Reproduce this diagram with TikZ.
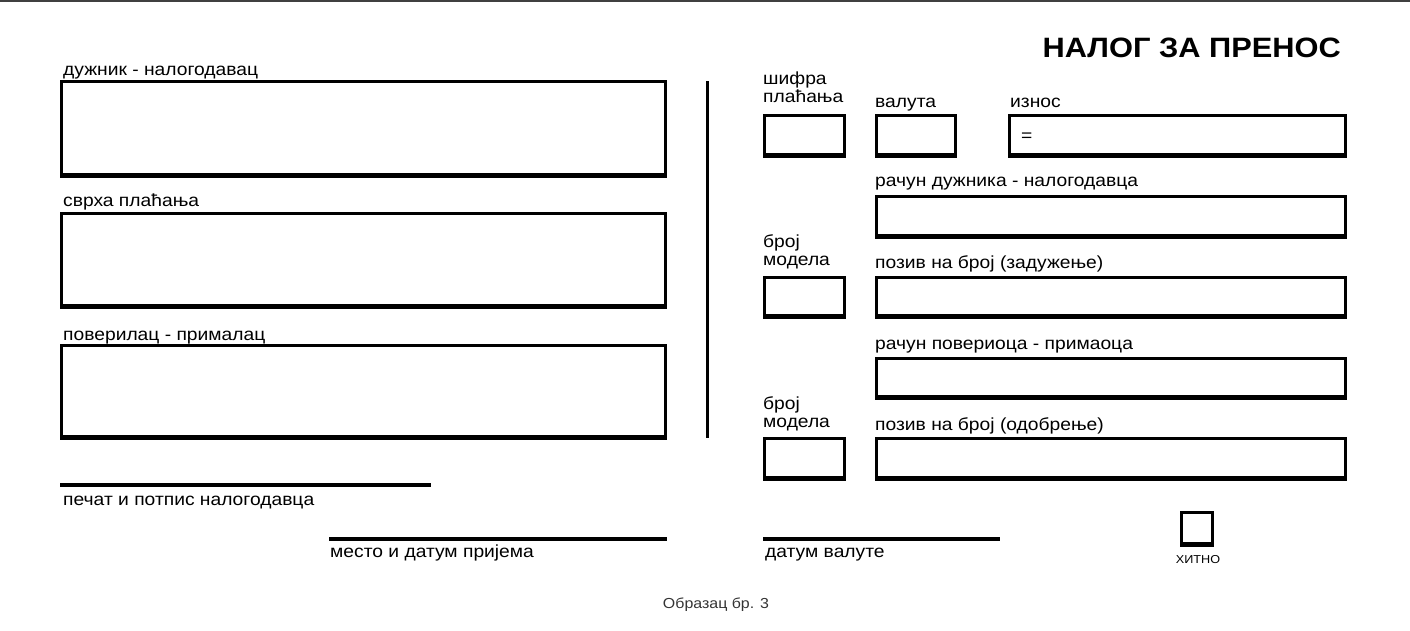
\documentclass[tikz,border=0pt]{standalone}
\usepackage{fontspec}
\setmainfont{Liberation Sans}[FakeStretch = 1.1]
\usetikzlibrary{positioning}

\tikzset{
  field/.style = {draw, line width = 3pt, inner sep = 0pt, anchor = north west},
  caption/.style = {inner sep = 0pt, anchor = base west, align = left, font = \fontsize{17.5}{18}\selectfont},
  rule/.style = {line width = 3.5pt},
}

\begin{document}
\begin{tikzpicture}[x = 1pt, y = -1pt]
            \useasboundingbox (0,0) rectangle (1410,630);
            \coordinate (top-a) at (0,0.75);
            \coordinate (top-b) at (1410,0.75);
            \draw[gray!50!black, line width = 1.5pt] (top-a) -- (top-b);

            % left column
            \node[field, minimum width = 604pt, minimum height = 93pt] (duznik) at (60,80) {};
            \node[field, minimum width = 604pt, minimum height = 92pt] (svrha) at (60,212) {};
            \node[field, minimum width = 604pt, minimum height = 91pt] (poverilac) at (60,344) {};
            \node[caption] (duznik-l) at (63,75) {дужник - налогодавац};
            \node[caption] (svrha-l) at (63,206) {сврха плаћања};
            \node[caption] (poverilac-l) at (63,340) {поверилац - прималац};

            \coordinate (sep-a) at (707,81);
            \coordinate (sep-b) at (707,438);
            \draw[line width = 3pt] (sep-a) -- (sep-b);

            % right column
            \node[anchor = base east, inner sep = 0pt, font = \fontsize{28}{30}\selectfont\bfseries] (naslov) at (1341,57) {НАЛОГ ЗА ПРЕНОС};
            \node[field, minimum width = 80pt, minimum height = 39pt] (sifra) at (763,114) {};
            \node[field, minimum width = 79pt, minimum height = 39pt] (valuta) at (875,114) {};
            \node[field, minimum width = 336pt, minimum height = 39pt] (iznos) at (1008,114) {};
            \node[field, minimum width = 469pt, minimum height = 39pt] (racund) at (875,195) {};
            \node[field, minimum width = 80pt, minimum height = 38pt] (model1) at (763,276) {};
            \node[field, minimum width = 469pt, minimum height = 38pt] (poziv1) at (875,276) {};
            \node[field, minimum width = 469pt, minimum height = 38pt] (racunp) at (875,357) {};
            \node[field, minimum width = 80pt, minimum height = 39pt] (model2) at (763,437) {};
            \node[field, minimum width = 469pt, minimum height = 39pt] (poziv2) at (875,437) {};
            \node[field, minimum width = 31pt, minimum height = 31pt] (hitno) at (1180,511) {};

            \node[caption] (sifra-l) at (763,102) {шифра\\плаћања};
            \node[caption] (valuta-l) at (875,107) {валута};
            \node[caption] (iznos-l) at (1010,107) {износ};
            \node[caption] (jednako) at (1021,141) {=};
            \node[caption] (racund-l) at (875,186) {рачун дужника - налогодавца};
            \node[caption] (model1-l) at (763,265) {број\\модела};
            \node[caption] (poziv1-l) at (875,268) {позив на број (задужење)};
            \node[caption] (racunp-l) at (875,349) {рачун повериоца - примаоца};
            \node[caption] (model2-l) at (763,427) {број\\модела};
            \node[caption] (poziv2-l) at (875,430) {позив на број (одобрење)};

            % heavier bottom edges
            \foreach \f in {duznik, svrha, poverilac, sifra, valuta, iznos, racund, model1, poziv1, racunp, model2, poziv2, hitno}
              \draw[line width = 1.5pt] ([yshift = -0.75pt]\f.south west) -- ([yshift = -0.75pt]\f.south east);

            % signature lines
            \coordinate (pecat-a) at (60,485);
            \coordinate (pecat-b) at (431,485);
            \coordinate (mesto-a) at (329,539);
            \coordinate (mesto-b) at (667,539);
            \coordinate (datum-a) at (763,539);
            \coordinate (datum-b) at (1000,539);
            \draw[rule] (pecat-a) -- (pecat-b);
            \draw[rule] (mesto-a) -- (mesto-b);
            \draw[rule] (datum-a) -- (datum-b);
            \node[caption] (pecat-l) at (63,505) {печат и потпис налогодавца};
            \node[caption] (mesto-l) at (330,557) {место и датум пријема};
            \node[caption] (datum-l) at (765,557) {датум валуте};

            \node[anchor = base, inner sep = 0pt, font = \fontsize{11.5}{14}\selectfont] (hitno-l) at (1198,563) {ХИТНО};
            \node[anchor = base, inner sep = 0pt, text = black!80, font = \fontsize{14.5}{16}\selectfont] (obrazac) at (716,608) {Образац бр. 3};
          \end{tikzpicture}
\end{document}
